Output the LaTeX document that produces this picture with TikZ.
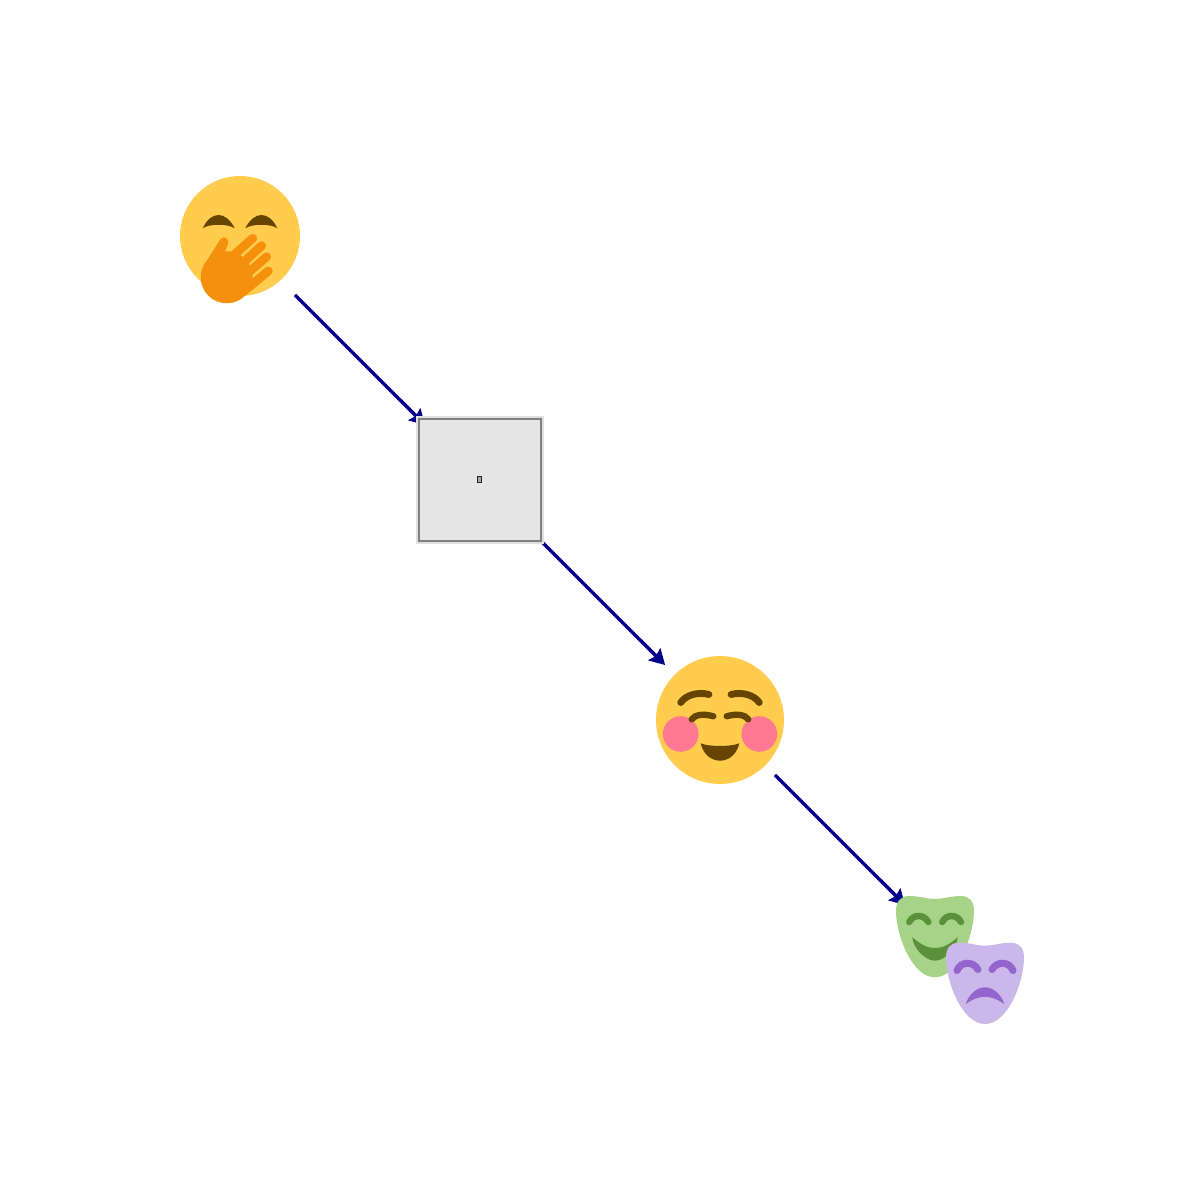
\documentclass[tikz,border=0pt]{standalone}
\usepackage{tikz}
\usetikzlibrary{arrows.meta,positioning,calc}
\definecolor{face}{HTML}{FFCC4D}
\definecolor{brow}{HTML}{664500}
\definecolor{hand}{HTML}{F4900C}
\definecolor{cheek}{HTML}{FF7892}
\definecolor{comedy}{HTML}{A6D388}
\definecolor{comedyd}{HTML}{5C913B}
\definecolor{tragedy}{HTML}{CBB7EA}
\definecolor{tragedyd}{HTML}{9266CC}
\definecolor{flowblue}{HTML}{00008B}
\tikzset{
  port/.style={rectangle,inner sep=0pt,outer sep=0pt,minimum size=2.2cm},
  flow/.style={-{Stealth[length=8.6pt,width=9.6pt,inset=1.2pt]},draw=flowblue,fill=flowblue,line width=1.95pt},
  finger/.style={draw=hand,line width=5pt,line cap=round},
  stroke/.style={line width=#1,line cap=round}
}
\newcommand{\maskpath}{(935,899) .. controls (943,899) and (950,896) .. (961,896) .. controls (970,896) and (974,902) .. (974,911) .. controls (974,935) and (958,977.3) .. (935,977.3) .. controls (912,977.3) and (896,935) .. (896,911) .. controls (896,902) and (900,896) .. (909,896) .. controls (920,896) and (927,899) .. (935,899) -- cycle}
\begin{document}
\begin{tikzpicture}[x=0.02cm,y=-0.02cm]
\useasboundingbox (0,0) rectangle (1200,1200);
\node[port] (hush) at (240,240) {};
\node[port] (card) at (480,480) {};
\node[port] (blush) at (720,720) {};
\node[port] (masks) at (960,960) {};
% connectors
\draw[flow] (hush) -- (card);
\draw[flow] (card) -- (blush);
\draw[flow] (blush) -- (masks);
% face with hand
\fill[face] (240,236) circle (60);
\fill[brow] (202.7,228.3) .. controls (207,219) and (213,215) .. (218.5,215) .. controls (224,215) and (230,219) .. (234.7,228.3) .. controls (228,223.6) and (209,223.6) .. (202.7,228.3) -- cycle;
\fill[brow] (245.3,228.3) .. controls (250,219) and (256,215) .. (261.5,215) .. controls (267,215) and (273,219) .. (277.3,228.3) .. controls (271,223.6) and (252,223.6) .. (245.3,228.3) -- cycle;
\fill[hand] (226.7,277.3) circle (26);
\fill[hand] (220,240) -- (203.5,266) -- (226.7,300) -- (244,296) -- (250,282) -- (243,272) -- (235,264) -- (221.7,259.3) -- (228,244) -- cycle;
\draw[finger] (224,241.7) -- (213,260);
\draw[finger] (252.7,238.3) -- (226,262);
\draw[finger] (261.7,245.7) -- (235,270);
\draw[finger] (266.7,256.7) -- (240,280);
\draw[finger] (268.3,271) -- (243.3,291.7);
% card
\node[rectangle,draw=black!12,line width=2.3pt,minimum size=2.48cm,inner sep=0pt] (cardrim) at (card) {};
\node[rectangle,draw=black!50,fill=black!10,line width=1.15pt,minimum size=2.44cm,inner sep=0pt] (cardface) at (card) {};
\node[rectangle,draw=black!85,fill=black!35,line width=0.7pt,minimum width=0.08cm,minimum height=0.12cm,inner sep=0pt] (glyph) at (479.5,479.5) {};
% smiling face
\fill[face] (720,720) circle (64);
\fill[cheek] (680.7,734) circle (17.8);
\fill[cheek] (759.3,734) circle (17.8);
\draw[brow,stroke=3.9pt] (680.7,702.5) .. controls (686,695) and (698,691.5) .. (709,694.5);
\draw[brow,stroke=3.9pt] (759.3,702.5) .. controls (754,695) and (742,691.5) .. (731,694.5);
\draw[brow,stroke=3.6pt] (691.7,719.3) .. controls (695,714.5) and (704,713.5) .. (713.3,716.3);
\draw[brow,stroke=3.6pt] (748.3,719.3) .. controls (745,714.5) and (736,713.5) .. (726.7,716.3);
\fill[brow] (700.7,743.3) .. controls (708,746.8) and (732,746.8) .. (739.3,743.3) .. controls (737,754) and (729,760.7) .. (720,760.7) .. controls (711,760.7) and (703,754) .. (700.7,743.3) -- cycle;
% masks
\fill[comedy] \maskpath;
\draw[comedyd,stroke=3.7pt] (909.3,922) .. controls (913,914) and (924,914) .. (928.3,922);
\draw[comedyd,stroke=3.7pt] (942.3,922) .. controls (946,914) and (957,914) .. (961,922);
\fill[comedyd] (912.3,937.3) .. controls (920,944) and (927,948) .. (935,948) .. controls (943,948) and (950,944) .. (957.7,937.3) .. controls (957,948) and (945,960.7) .. (935,960.7) .. controls (925,960.7) and (913,948) .. (912.3,937.3) -- cycle;
\fill[tragedy,shift={(50,46.7)}] \maskpath;
\draw[tragedyd,stroke=4pt] (957,970.5) .. controls (961,961) and (973,961) .. (978,969.5);
\draw[tragedyd,stroke=4pt] (992,969.5) .. controls (997,961) and (1009,961) .. (1013,970.5);
\fill[tragedyd] (965.7,1004) .. controls (969,994) and (977,987.3) .. (985,987.3) .. controls (993,987.3) and (1001,994) .. (1004.3,1004) .. controls (997,999) and (991,996.7) .. (985,996.7) .. controls (979,996.7) and (973,999) .. (965.7,1004) -- cycle;
\end{tikzpicture}
\end{document}
